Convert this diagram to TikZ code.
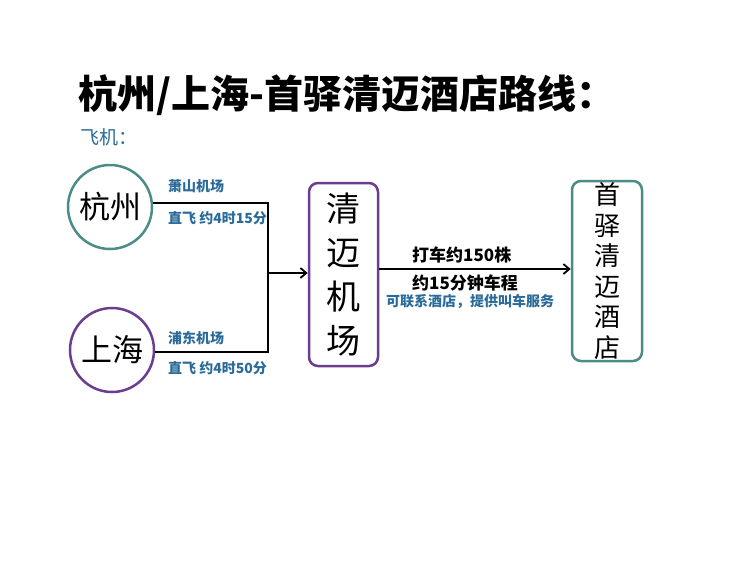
\documentclass[tikz,border=0pt]{standalone}
\usepackage{fontspec}
\setmainfont{Noto Sans CJK SC}
\usetikzlibrary{arrows.meta}
\definecolor{teal1}{HTML}{4A8C86}
\definecolor{purp1}{HTML}{6A3D8F}
\definecolor{blu1}{HTML}{2B6B9A}
\tikzset{
  lbl/.style={font=\fontsize{14}{15}\selectfont\bfseries, text=blu1, inner sep=0pt, anchor=west},
  blk/.style={font=\fontsize{17}{18}\selectfont\bfseries, text=black, inner sep=0pt, anchor=west},
  conn/.style={line width=1.8pt, black},
  arr/.style={conn, -{Straight Barb[length=6pt,width=10pt]}}
}
\begin{document}
\begin{tikzpicture}[x=1pt,y=-1pt]
\useasboundingbox[fill=white] (0,0) rectangle (750,563);
\node[font=\fontsize{39}{40}\selectfont\bfseries, anchor=west, inner sep=0pt] (title) at (78,95) {杭州/上海-首驿清迈酒店路线：};
\node[font=\fontsize{19}{20}\selectfont, text=blu1, anchor=west, inner sep=0pt] (fj) at (80,137) {飞机：};
\node[circle, draw=teal1, line width=2.5pt, minimum size=84pt, inner sep=0pt, font=\fontsize{31}{32}\selectfont] (hz) at (110,207) {杭州};
\node[circle, draw=purp1, line width=2.5pt, minimum size=84pt, inner sep=0pt, font=\fontsize{31}{32}\selectfont] (sh) at (112,350) {上海};
\node[draw=purp1, line width=2.5pt, rounded corners=9pt, minimum width=69pt, minimum height=183pt, inner sep=0pt, align=center, font=\fontsize{34}{44}\selectfont] (cm) at (343.5,274.5) {清\\迈\\机\\场};
\node[draw=teal1, line width=2.5pt, rounded corners=9pt, minimum width=70pt, minimum height=180pt, inner sep=0pt, align=center, font=\fontsize{26}{30.5}\selectfont] (hotel) at (607,271) {首\\驿\\清\\迈\\酒\\店};
\coordinate (j1) at (268,203);
\coordinate (j2) at (268,352);
\coordinate (jm) at (268,273);
\draw[conn] (hz.east |- j1) -- (j1) -- (j2) -- (sh.east |- j2);
\draw[arr] (jm) -- (cm.west |- jm);
\draw[arr] (cm.east |- 0,269) -- (hotel.west |- 0,269);
\node[lbl] (l1) at (168,186) {萧山机场};
\node[lbl] (l2) at (168,218) {直飞 约4时15分};
\node[lbl] (l3) at (168,338) {浦东机场};
\node[lbl] (l4) at (168,368) {直飞 约4时50分};
\node[blk] (t1) at (412,255) {打车约150株};
\node[blk] (t2) at (412,283) {约15分钟车程};
\node[lbl] (t3) at (386,302) {可联系酒店，提供叫车服务};
\end{tikzpicture}
\end{document}
